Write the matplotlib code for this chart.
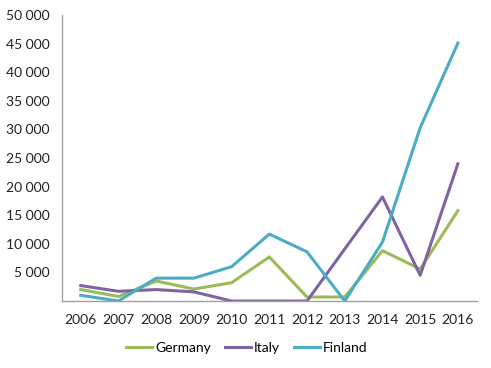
import matplotlib.pyplot as plt
import numpy as np

years = ["2006", "2007", "2008", "2009", "2010", "2011", "2012", "2013", "2014", "2015", "2016"]
germany = [2000, 800, 3500, 2100, 3200, 7700, 700, 700, 8800, 5600, 15800]
italy = [2700, 1700, 2000, 1600, 0, 0, 0, 9100, 18200, 4500, 24000]
finland = [1000, 0, 4000, 4000, 6000, 11700, 8600, 0, 10300, 30300, 45100]

plt.rcParams["font.family"] = ["Lato", "DejaVu Sans"]

fig = plt.figure(figsize=(4.91, 3.68), dpi=100)
ax = fig.add_axes([0.126, 0.182, 0.845, 0.777])

x = np.arange(len(years))
ax.plot(x, germany, color="#9BBB59", lw=2.2, label="Germany")
ax.plot(x, italy, color="#8064A2", lw=2.2, label="Italy")
ax.plot(x, finland, color="#4BACC6", lw=2.2, label="Finland")

ax.set_xlim(-0.5, 10.5)
ax.set_ylim(0, 50000)
ax.set_xticks(x)
ax.set_xticklabels(years)
yt = np.arange(5000, 50001, 5000)
ax.set_yticks(yt)
ax.set_yticklabels([f"{v:,}".replace(",", " ") for v in yt])
ax.tick_params(length=0, labelsize=10, colors="#222222")
ax.tick_params(axis="x", pad=9)
ax.tick_params(axis="y", pad=9)

for s in ["top", "right"]:
    ax.spines[s].set_visible(False)
for s in ["left", "bottom"]:
    ax.spines[s].set_color("#A0A0A0")
    ax.spines[s].set_linewidth(1)

ax.legend(loc="upper center", bbox_to_anchor=(0.446, -0.10), ncol=3, frameon=False,
          fontsize=10, handlelength=1.9, handletextpad=0.2, columnspacing=1.0)

fig.savefig("out.png", dpi=100)
